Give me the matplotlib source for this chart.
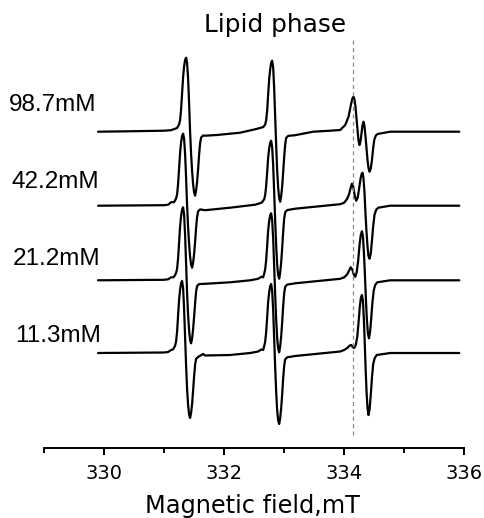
import numpy as np
import matplotlib
matplotlib.use("Agg")
import matplotlib.pyplot as plt

# ---------------- data ----------------
concentrations = ["98.7mM", "42.2mM", "21.2mM", "11.3mM"]

# (magnetic field mT, signal in arbitrary units) for each spectrum
trace_987 = [
    (329.900, 0), (330.500, 0.5), (331.000, 1), (331.117, 1.5), (331.217, 3.7),
    (331.250, 7.4), (331.267, 11.8), (331.283, 22.2), (331.300, 38.5), (331.317, 54.8),
    (331.333, 65.1), (331.350, 71.8), (331.367, 74), (331.383, 68.8), (331.400, 53.3),
    (331.417, 28.1), (331.433, 0), (331.450, -22.4), (331.467, -39.7), (331.483, -52.5),
    (331.500, -60.8), (331.517, -64), (331.533, -58.9), (331.550, -49.9), (331.567, -37.1),
    (331.583, -23), (331.600, -11.5), (331.617, -5.8), (331.650, -3.8), (331.683, -4),
    (331.878, -3.3), (332.267, -1), (332.550, 2.9), (332.650, 4.6), (332.683, 7.1),
    (332.700, 11.4), (332.717, 21.3), (332.733, 36.9), (332.750, 52.5), (332.767, 62.5),
    (332.783, 68.9), (332.800, 71), (332.817, 63.9), (332.833, 44), (332.850, 15.6),
    (332.867, -14), (332.883, -38.5), (332.900, -56), (332.917, -66.5), (332.933, -70),
    (332.950, -64.4), (332.967, -54.6), (332.983, -40.6), (333.000, -25.2), (333.017, -12.6),
    (333.033, -6.3), (333.067, -4.2), (333.183, -3.5), (333.483, 0), (333.767, 1),
    (333.933, 1.7), (334.017, 6.7), (334.072, 15), (334.117, 28.4), (334.138, 33.5),
    (334.155, 35), (334.172, 32), (334.188, 25), (334.205, 13), (334.222, 1.7),
    (334.238, -9), (334.255, -13.3), (334.272, -9.5), (334.288, -1.6), (334.305, 6.5),
    (334.322, 10), (334.338, 5.5), (334.355, -5), (334.372, -17), (334.388, -28.3),
    (334.405, -36.5), (334.422, -40), (334.442, -37), (334.462, -28.3), (334.483, -16),
    (334.500, -8.3), (334.525, -4), (334.555, -2.3), (334.767, 0), (335.917, 0),
]

trace_422 = [
    (329.900, 0), (331.000, 0.5), (331.067, 1), (331.117, 3.5), (331.167, 3.6),
    (331.200, 7.2), (331.217, 11.5), (331.233, 21.6), (331.250, 37.4), (331.267, 53.3),
    (331.283, 63.4), (331.300, 69.8), (331.317, 72), (331.333, 67), (331.350, 51.8),
    (331.367, 27.4), (331.383, 0), (331.400, -21.7), (331.417, -38.4), (331.433, -50.8),
    (331.450, -58.9), (331.467, -62), (331.483, -57), (331.500, -48.4), (331.517, -36),
    (331.533, -22.3), (331.550, -11.2), (331.567, -5.6), (331.600, -3.7), (331.683, -4.5),
    (332.100, -2), (332.517, 1), (332.600, 2.5), (332.633, 3.5), (332.667, 6.5),
    (332.683, 10.4), (332.700, 19.5), (332.717, 33.8), (332.733, 48.1), (332.750, 57.2),
    (332.767, 63), (332.783, 65), (332.800, 58.5), (332.817, 40.3), (332.833, 14.3),
    (332.850, -14.6), (332.867, -40.2), (332.883, -58.4), (332.900, -69.4), (332.917, -73),
    (332.933, -67.2), (332.950, -56.9), (332.967, -42.3), (332.983, -26.3), (333.000, -13.1),
    (333.017, -6.6), (333.050, -4.4), (333.183, -3), (333.600, -0.5), (333.933, 1.5),
    (334.000, 3), (334.050, 7), (334.083, 12), (334.108, 18), (334.128, 22),
    (334.150, 19), (334.175, 10), (334.200, 5), (334.225, 8), (334.250, 18),
    (334.275, 28), (334.292, 32), (334.305, 33), (334.320, 28), (334.337, 14),
    (334.353, -6), (334.370, -25), (334.387, -40), (334.403, -50), (334.422, -53),
    (334.442, -48), (334.462, -35), (334.483, -20), (334.505, -9), (334.533, -4),
    (334.567, -2), (334.767, 0), (335.917, 0),
]

trace_212 = [
    (329.900, 0), (331.000, 0.5), (331.067, 1), (331.117, 3), (331.150, 3),
    (331.167, 3.7), (331.200, 7.3), (331.217, 11.7), (331.233, 21.9), (331.250, 38),
    (331.267, 54), (331.283, 64.2), (331.300, 70.8), (331.317, 73), (331.333, 65.7),
    (331.350, 45.3), (331.367, 16.1), (331.383, -12.6), (331.400, -34.7), (331.417, -50.4),
    (331.433, -59.9), (331.450, -63), (331.467, -58), (331.483, -49.1), (331.500, -36.5),
    (331.517, -22.7), (331.533, -11.3), (331.550, -5.7), (331.583, -3.8), (331.683, -3.5),
    (332.100, -2), (332.433, 0), (332.567, 1.5), (332.617, 3.5), (332.650, 3),
    (332.667, 6.7), (332.683, 10.7), (332.700, 20.1), (332.717, 34.8), (332.733, 49.6),
    (332.750, 59), (332.767, 65), (332.783, 67), (332.800, 60.3), (332.817, 41.5),
    (332.833, 14.7), (332.850, -14.4), (332.867, -39.6), (332.883, -57.6), (332.900, -68.4),
    (332.917, -72), (332.933, -66.2), (332.950, -56.2), (332.967, -41.8), (332.983, -25.9),
    (333.000, -13), (333.017, -6.5), (333.050, -4.3), (333.183, -3), (333.600, -0.5),
    (333.933, 1.5), (334.000, 3), (334.050, 6), (334.083, 10), (334.108, 13),
    (334.133, 11), (334.158, 6), (334.183, 3.5), (334.208, 8), (334.233, 20),
    (334.255, 35), (334.275, 45), (334.295, 49), (334.312, 44), (334.328, 28),
    (334.345, 5), (334.362, -20), (334.378, -40), (334.395, -53), (334.412, -58),
    (334.430, -52), (334.450, -38), (334.470, -22), (334.492, -10), (334.517, -4.5),
    (334.550, -2), (334.767, 0), (335.917, 0),
]

trace_113 = [
    (329.900, 0), (331.000, 0.5), (331.067, 1), (331.117, 3), (331.150, 3.6),
    (331.183, 7.2), (331.200, 11.5), (331.217, 21.6), (331.233, 37.4), (331.250, 53.3),
    (331.267, 63.4), (331.283, 69.8), (331.300, 72), (331.317, 64.8), (331.333, 44.6),
    (331.350, 15.8), (331.367, -13), (331.383, -35.8), (331.400, -52), (331.417, -61.8),
    (331.433, -65), (331.450, -59.8), (331.467, -50.7), (331.483, -37.7), (331.500, -23.4),
    (331.517, -11.7), (331.533, -5.9), (331.567, -3.9), (331.650, -1), (331.683, -2.5),
    (332.100, -2), (332.433, 0), (332.567, 1.5), (332.617, 3.5), (332.650, 3),
    (332.667, 6.9), (332.683, 11), (332.700, 20.7), (332.717, 35.9), (332.733, 51.1),
    (332.750, 60.7), (332.767, 66.9), (332.783, 69), (332.800, 62.1), (332.817, 42.8),
    (332.833, 15.2), (332.850, -14.2), (332.867, -39.1), (332.883, -56.8), (332.900, -67.5),
    (332.917, -71), (332.933, -65.3), (332.950, -55.4), (332.967, -41.2), (332.983, -25.6),
    (333.000, -12.8), (333.017, -6.4), (333.050, -4.3), (333.183, -3), (333.600, -0.5),
    (333.933, 1.5), (334.000, 3), (334.050, 5), (334.092, 7.5), (334.117, 8),
    (334.142, 6), (334.167, 5), (334.192, 8), (334.217, 16), (334.238, 30),
    (334.258, 45), (334.277, 55), (334.295, 58), (334.312, 52), (334.328, 33),
    (334.343, 8), (334.358, -18), (334.373, -40), (334.388, -55), (334.405, -62),
    (334.423, -56), (334.443, -41), (334.463, -24), (334.483, -11), (334.508, -5),
    (334.542, -2), (334.767, 0), (335.917, 0),
]

traces = [trace_987, trace_422, trace_212, trace_113]
baseline_offsets = [0.0, -74.0, -148.6, -221.3]
lipid_field = 334.15
major_ticks = [330, 332, 334, 336]
minor_ticks = [329, 331, 333, 335]
tick_labels = ["330", "332", "334", "336"]

# ---------------- figure ----------------
W, H = 484, 518
fig = plt.figure(figsize=(W / 100, H / 100), dpi=100)
fig.patch.set_facecolor("white")
ax = fig.add_axes([44 / W, 1 - 448 / H, (464.3 - 44) / W, 428 / H])

for data, off in zip(traces, baseline_offsets):
    arr = np.array(data, dtype=float)
    ax.plot(arr[:, 0], arr[:, 1] + off, color="black", lw=1.6,
            solid_joinstyle="round", solid_capstyle="round")

ax.axvline(lipid_field, ymin=13 / 428, ymax=408 / 428, color="#888888",
           lw=0.9, dashes=(3.2, 2.7))

ax.set_xlim(329, 336)
ax.set_ylim(-316.3, 111.7)
for s in ["left", "right", "top"]:
    ax.spines[s].set_visible(False)
ax.spines["bottom"].set_linewidth(1.4)
ax.set_yticks([])
ax.set_xticks(major_ticks)
ax.set_xticks(minor_ticks, minor=True)
ax.set_xticklabels(tick_labels, fontsize=14, family="DejaVu Sans")
ax.tick_params(axis="x", which="major", direction="out", length=5, width=1.4, pad=6.2)
ax.tick_params(axis="x", which="minor", direction="out", length=3.6, width=1.4)

label_x_px = [9, 12, 13, 15.5]
label_base_px = [111, 187.9, 264.8, 341.7]
for txt, lx, ly in zip(concentrations, label_x_px, label_base_px):
    fig.text(lx / W, 1 - ly / H, txt, ha="left", va="baseline",
             fontsize=17.5, family="Liberation Sans")

fig.text(275.5 / W, 1 - 31.7 / H, "Lipid phase", ha="center", va="baseline",
         fontsize=17.8, family="DejaVu Sans")
fig.text(252 / W, 1 - 512.5 / H, "Magnetic field,mT", ha="center", va="baseline",
         fontsize=17.3, family="DejaVu Sans")

fig.savefig("out.png", dpi=100, facecolor="white")
